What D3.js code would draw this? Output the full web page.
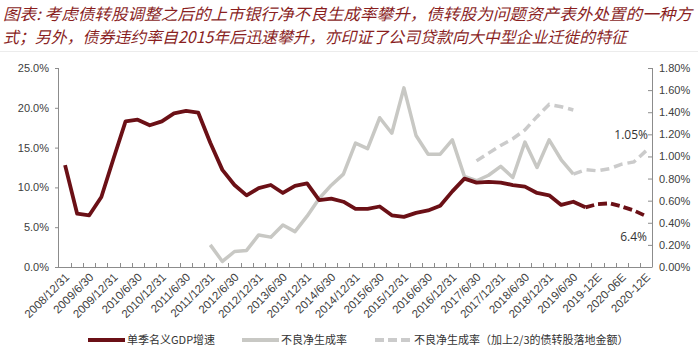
<!DOCTYPE html>
<html>
<head>
<meta charset="utf-8">
<script src="https://cdn.jsdelivr.net/npm/d3@7"></script>
<style>
  body { margin: 0; background: #fff; }
  .tick-label { font-family: "Liberation Sans", Arial, sans-serif; font-size: 11px; fill: #404040; }
</style>
</head>
<body>
<div id="chart"></div>
<script>
// quarterly categories (labels shown every half year)
const quarters = [
  "2008/12/31",
  "2009/3/31", "2009/6/30", "2009/9/30", "2009/12/31",
  "2010/3/31", "2010/6/30", "2010/9/30", "2010/12/31",
  "2011/3/31", "2011/6/30", "2011/9/30", "2011/12/31",
  "2012/3/31", "2012/6/30", "2012/9/30", "2012/12/31",
  "2013/3/31", "2013/6/30", "2013/9/30", "2013/12/31",
  "2014/3/31", "2014/6/30", "2014/9/30", "2014/12/31",
  "2015/3/31", "2015/6/30", "2015/9/30", "2015/12/31",
  "2016/3/31", "2016/6/30", "2016/9/30", "2016/12/31",
  "2017/3/31", "2017/6/30", "2017/9/30", "2017/12/31",
  "2018/3/31", "2018/6/30", "2018/9/30", "2018/12/31",
  "2019/3/31", "2019/6/30", "2019/9/30",
  "2019-12E", "2020-03E", "2020-06E", "2020-09E", "2020-12E"
];

// 单季名义GDP增速 (%), left axis; actual through 2019/9/30, then forecast
const gdpActual = [12.8, 6.7, 6.5, 8.8, 13.6, 18.3, 18.5, 17.8, 18.3, 19.3, 19.6, 19.4,
  15.6, 12.2, 10.3, 9.0, 9.9, 10.3, 9.3, 10.2, 10.5, 8.4, 8.6, 8.2,
  7.3, 7.3, 7.6, 6.5, 6.3, 6.8, 7.1, 7.7, 9.5, 11.1, 10.6, 10.7,
  10.6, 10.3, 10.1, 9.3, 9.0, 7.8, 8.2, 7.5];
const gdpForecast = [7.5, 7.9, 8.0, 7.6, 7.1, 6.4];   // 2019/9/30 .. 2020-12E

// 不良净生成率 (%), right axis; starts 2011/12/31, actual through 2019/6/30
const nplActual = [0.20, 0.05, 0.14, 0.15, 0.29, 0.27, 0.38, 0.32, 0.46, 0.62, 0.74, 0.84,
  1.12, 1.07, 1.35, 1.21, 1.62, 1.19, 1.02, 1.02, 1.15, 0.82, 0.78, 0.83,
  0.91, 0.81, 1.13, 0.90, 1.15, 0.97, 0.84];
const nplForecast = [0.84, 0.88, 0.87, 0.89, 0.93, 0.95, 1.05]; // 2019/6/30 .. 2020-12E

// 不良净生成率（加上2/3的债转股落地金额）, 2017/6/30 .. 2019/6/30
const nplAdjusted = [0.96, 1.03, 1.10, 1.16, 1.24, 1.36, 1.47, 1.45, 1.42];

const leftTicks = [0, 5, 10, 15, 20, 25];
const rightTicks = [0, 0.2, 0.4, 0.6, 0.8, 1.0, 1.2, 1.4, 1.6, 1.8];

const titleLines = [
  "图表: 考虑债转股调整之后的上市银行净不良生成率攀升，债转股为问题资产表外处置的一种方",
  "式；另外，债券违约率自2015年后迅速攀升，亦印证了公司贷款向大中型企业迁徙的特征"
];

const colors = { gdp: "#6b1016", npl: "#c8c8c4", adj: "#cbcbcb", axis: "#8c8c8c" };

const width = 698, height = 353;
const margins = { top: 68, right: 46, bottom: 86, left: 59 };
const innerW = width - margins.left - margins.right;
const innerH = height - margins.top - margins.bottom;

const svg = d3.select("#chart").append("svg")
  .attr("width", width)
  .attr("height", height);

// title
svg.selectAll(".title")
  .data(titleLines)
  .enter().append("text")
  .attr("class", "title")
  .attr("x", 3)
  .attr("y", (d, i) => 20 + i * 23)
  .attr("textLength", (d, i) => i === 0 ? 689 : 624)
  .attr("lengthAdjust", "spacingAndGlyphs")
  .style("font-family", "'Noto Sans CJK SC', sans-serif")
  .style("font-style", "italic")
  .style("font-size", "16px")
  .style("fill", "#8a1f1f")
  .text(d => d);

svg.append("line")
  .attr("x1", 0).attr("x2", width)
  .attr("y1", 51.5).attr("y2", 51.5)
  .attr("stroke", "#ececec");

const g = svg.append("g")
  .attr("transform", `translate(${margins.left},${margins.top})`);

const x = d3.scaleBand().domain(quarters).range([0, innerW]).padding(0);
const yLeft = d3.scaleLinear().domain([0, 25]).range([innerH, 0]);
const yRight = d3.scaleLinear().domain([0, 1.8]).range([innerH, 0]);
const cx = q => x(q) + x.bandwidth() / 2;

// left axis
const leftAxis = g.append("g")
  .call(d3.axisLeft(yLeft).tickValues(leftTicks).tickSize(4).tickFormat(d => d.toFixed(1) + "%"));
leftAxis.select(".domain").attr("stroke", colors.axis).attr("d", `M-0.5,0V${innerH}`);
leftAxis.selectAll(".tick line").attr("stroke", colors.axis);
leftAxis.selectAll(".tick text").attr("class", "tick-label").attr("x", -10);

// right axis (ticks point inward)
const rightAxis = g.append("g")
  .attr("transform", `translate(${innerW},0)`)
  .call(d3.axisRight(yRight).tickValues(rightTicks).tickSize(0).tickFormat(d => d.toFixed(2) + "%"));
rightAxis.select(".domain").attr("stroke", colors.axis).attr("d", `M0.5,0V${innerH}`);
rightAxis.selectAll(".tick").append("line")
  .attr("x1", -4).attr("x2", 0)
  .attr("stroke", colors.axis);
rightAxis.selectAll(".tick text").attr("class", "tick-label").attr("x", 7);

// bottom axis
const bottomAxis = g.append("g")
  .attr("transform", `translate(0,${innerH})`)
  .call(d3.axisBottom(x).tickValues(quarters.filter((d, i) => i % 2 === 0)).tickSize(0));
bottomAxis.select(".domain").attr("stroke", colors.axis).attr("d", `M-0.5,0.5H${innerW + 0.5}`);
bottomAxis.selectAll(".tick text")
  .attr("class", "tick-label")
  .attr("y", 0).attr("dy", 0)
  .attr("transform", "translate(5,11) rotate(-45)")
  .style("text-anchor", "end")
  .style("font-size", "11.5px");

// category boundary tick marks
g.append("g")
  .selectAll("line")
  .data(quarters.slice(1))
  .enter().append("line")
  .attr("x1", d => Math.round(x(d)) + 0.5)
  .attr("x2", d => Math.round(x(d)) + 0.5)
  .attr("y1", innerH - 4)
  .attr("y2", innerH)
  .attr("stroke", colors.axis);

// series
const gdpLine = d3.line().x(d => cx(d.q)).y(d => yLeft(d.v));
const nplLine = d3.line().x(d => cx(d.q)).y(d => yRight(d.v));

const toPoints = (values, start) => values.map((v, i) => ({ q: quarters[start + i], v }));

const nplStart = quarters.indexOf("2011/12/31");
const nplForecastStart = quarters.indexOf("2019/6/30");
const adjStart = quarters.indexOf("2017/6/30");
const gdpForecastStart = quarters.indexOf("2019/9/30");

g.append("path")
  .datum(toPoints(nplActual, nplStart))
  .attr("fill", "none")
  .attr("stroke", colors.npl)
  .attr("stroke-width", 3.5)
  .attr("stroke-linejoin", "round")
  .attr("d", nplLine);

g.append("path")
  .datum(toPoints(nplForecast, nplForecastStart))
  .attr("fill", "none")
  .attr("stroke", colors.adj)
  .attr("stroke-width", 3.5)
  .attr("stroke-dasharray", "9,5")
  .attr("d", nplLine);

g.append("path")
  .datum(toPoints(nplAdjusted, adjStart))
  .attr("fill", "none")
  .attr("stroke", colors.adj)
  .attr("stroke-width", 3.5)
  .attr("stroke-dasharray", "9,5")
  .attr("d", nplLine);

g.append("path")
  .datum(toPoints(gdpActual, 0))
  .attr("fill", "none")
  .attr("stroke", colors.gdp)
  .attr("stroke-width", 3.8)
  .attr("stroke-linejoin", "round")
  .attr("d", gdpLine);

g.append("path")
  .datum(toPoints(gdpForecast, gdpForecastStart))
  .attr("fill", "none")
  .attr("stroke", colors.gdp)
  .attr("stroke-width", 3.8)
  .attr("stroke-dasharray", "9,4")
  .attr("d", gdpLine);

// end-value annotations
const lastQ = quarters[quarters.length - 1];
g.append("text")
  .attr("x", cx(lastQ) + 2)
  .attr("y", yRight(nplForecast[nplForecast.length - 1]) - 12)
  .attr("text-anchor", "end")
  .style("font-family", "'Open Sans', sans-serif")
  .style("font-size", "12px")
  .style("fill", "#333")
  .text(nplForecast[nplForecast.length - 1].toFixed(2) + "%");

g.append("text")
  .attr("x", cx(lastQ) + 1)
  .attr("y", yLeft(gdpForecast[gdpForecast.length - 1]) + 25)
  .attr("text-anchor", "end")
  .style("font-family", "'Open Sans', sans-serif")
  .style("font-size", "12px")
  .style("fill", "#333")
  .text(gdpForecast[gdpForecast.length - 1].toFixed(1) + "%");

// legend
const legendItems = [
  { label: "单季名义GDP增速", color: colors.gdp, dash: null, x: 88 },
  { label: "不良净生成率", color: colors.npl, dash: null, x: 242 },
  { label: "不良净生成率（加上2/3的债转股落地金额）", color: colors.adj, dash: "9,4", x: 375 }
];
const legend = svg.append("g").attr("transform", "translate(0,340)");
const items = legend.selectAll("g")
  .data(legendItems)
  .enter().append("g")
  .attr("transform", d => `translate(${d.x},0)`);
items.append("line")
  .attr("x1", 0).attr("x2", 37)
  .attr("stroke", d => d.color)
  .attr("stroke-width", 4)
  .attr("stroke-dasharray", d => d.dash);
items.append("text")
  .attr("x", 39)
  .attr("dy", "0.35em")
  .style("font-family", "'Noto Sans CJK SC', sans-serif")
  .style("font-size", "11px")
  .style("fill", "#333")
  .text(d => d.label);
</script>
</body>
</html>
